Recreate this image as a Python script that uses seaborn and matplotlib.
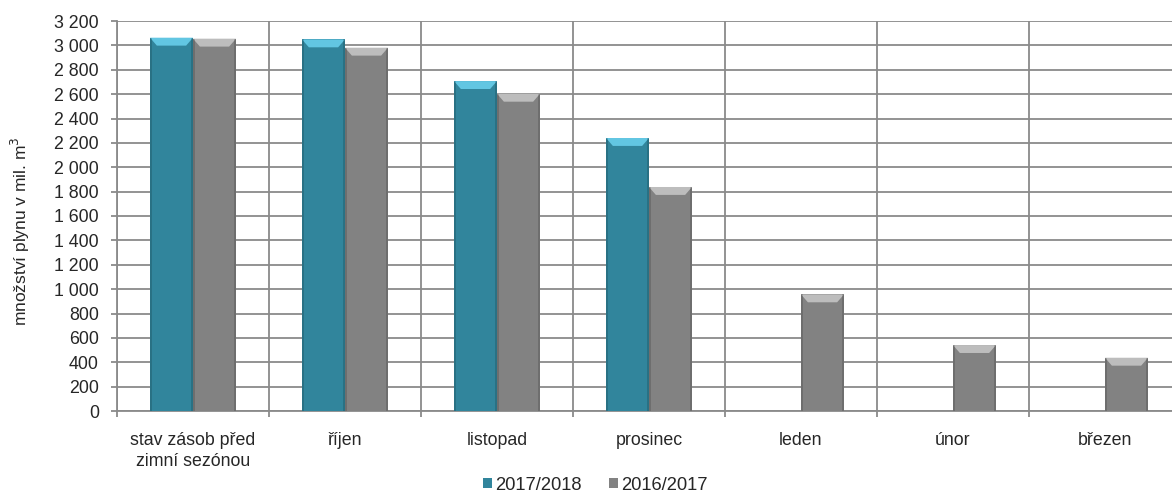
import numpy as np
import pandas as pd
import matplotlib
matplotlib.use('Agg')
import matplotlib.pyplot as plt
from matplotlib.patches import Patch, Polygon
from matplotlib.ticker import FuncFormatter, MultipleLocator, FixedLocator
import seaborn as sns

# data
categories = ['stav zásob před\nzimní sezónou', 'říjen', 'listopad', 'prosinec',
              'leden', 'únor', 'březen']
seasons = ['2017/2018', '2016/2017']
values_1718 = [3063, 3049, 2707, 2240, np.nan, np.nan, np.nan]
values_1617 = [3055, 2981, 2603, 1838, 957, 541, 437]

colors = ['#31859C', '#828282']
bevel_colors = ['#62C6E2', '#BDBDBD']
grid_color = '#8A8A8A'

df = pd.DataFrame({
    'kategorie': categories * 2,
    'sezona': [seasons[0]] * len(categories) + [seasons[1]] * len(categories),
    'hodnota': values_1718 + values_1617,
})

sns.set_theme(style='white')
plt.rcParams['font.family'] = ['Liberation Sans', 'DejaVu Sans']

fig = plt.figure(figsize=(11.72, 4.96), dpi=100)
# plot area runs past the right edge of the picture, like the reference
ax = fig.add_axes([117 / 1172, 1 - 411 / 496, 1064 / 1172, 390 / 496])

sns.barplot(data=df, x='kategorie', y='hodnota', hue='sezona',
            order=categories, hue_order=seasons, palette=colors,
            width=0.566, gap=0, dodge=True, saturation=1,
            edgecolor='none', linewidth=0, legend=False, ax=ax, zorder=3)

# simple bevel on top of each bar + darker edges
bars = [p for p in ax.patches]
for p in bars:
    h = p.get_height()
    if not np.isfinite(h) or h <= 0:
        continue
    x, w = p.get_x(), p.get_width()
    fc = p.get_facecolor()
    idx = 0 if abs(fc[0] - matplotlib.colors.to_rgba(colors[0])[0]) < 0.05 else 1
    bx, by = w * 0.16, 65
    ax.add_patch(Polygon([(x, h), (x + w, h), (x + w - bx, h - by), (x + bx, h - by)],
                         closed=True, facecolor=bevel_colors[idx], edgecolor='none',
                         zorder=4))
    for xs in (x, x + w - 0.01):
        ax.add_patch(Polygon([(xs, 0), (xs + 0.01, 0), (xs + 0.01, h), (xs, h)],
                             closed=True, facecolor='#000000', alpha=0.15,
                             edgecolor='none', zorder=4))

ax.set_xlim(-0.5, len(categories) - 0.5)
ax.set_ylim(0, 3200)
ax.yaxis.set_major_locator(MultipleLocator(200))
ax.yaxis.set_major_formatter(FuncFormatter(lambda v, _: f'{int(v):,}'.replace(',', ' ')))

ax.xaxis.set_minor_locator(FixedLocator(np.arange(-0.5, len(categories), 1.0)))
ax.grid(True, axis='y', which='major', color=grid_color, linewidth=1.3, zorder=0)
ax.grid(True, axis='x', which='minor', color=grid_color, linewidth=1.3, zorder=0)
ax.grid(False, axis='x', which='major')
ax.set_axisbelow(True)

for s in ['top', 'right']:
    ax.spines[s].set_visible(False)
for s in ['left', 'bottom']:
    ax.spines[s].set_color(grid_color)
    ax.spines[s].set_linewidth(1.3)

ax.tick_params(axis='y', which='major', length=4, width=1.3, color=grid_color,
               labelsize=12.8, pad=9, left=True)
ax.tick_params(axis='x', which='major', length=0, labelsize=12.8, pad=15)
ax.tick_params(axis='x', which='minor', length=4, width=1.3, color=grid_color,
               bottom=True)
for lbl in ax.get_xticklabels():
    lbl.set_linespacing(1.35)

ax.set_xlabel('')
ax.set_ylabel('množství plynu v mil. m$^3$', fontsize=12.5)
ax.yaxis.set_label_coords(-(117 - 32) / 1064, 0.46)

handles = [Patch(facecolor=c, edgecolor='none') for c in colors]
fig.legend(handles, seasons, loc='center', bbox_to_anchor=(0.508, 0.022),
           ncol=2, frameon=False, fontsize=13.2, handlelength=0.5,
           handleheight=0.5, handletextpad=0.15, columnspacing=1.5)

plt.savefig('out.png', dpi=100)
plt.close()
